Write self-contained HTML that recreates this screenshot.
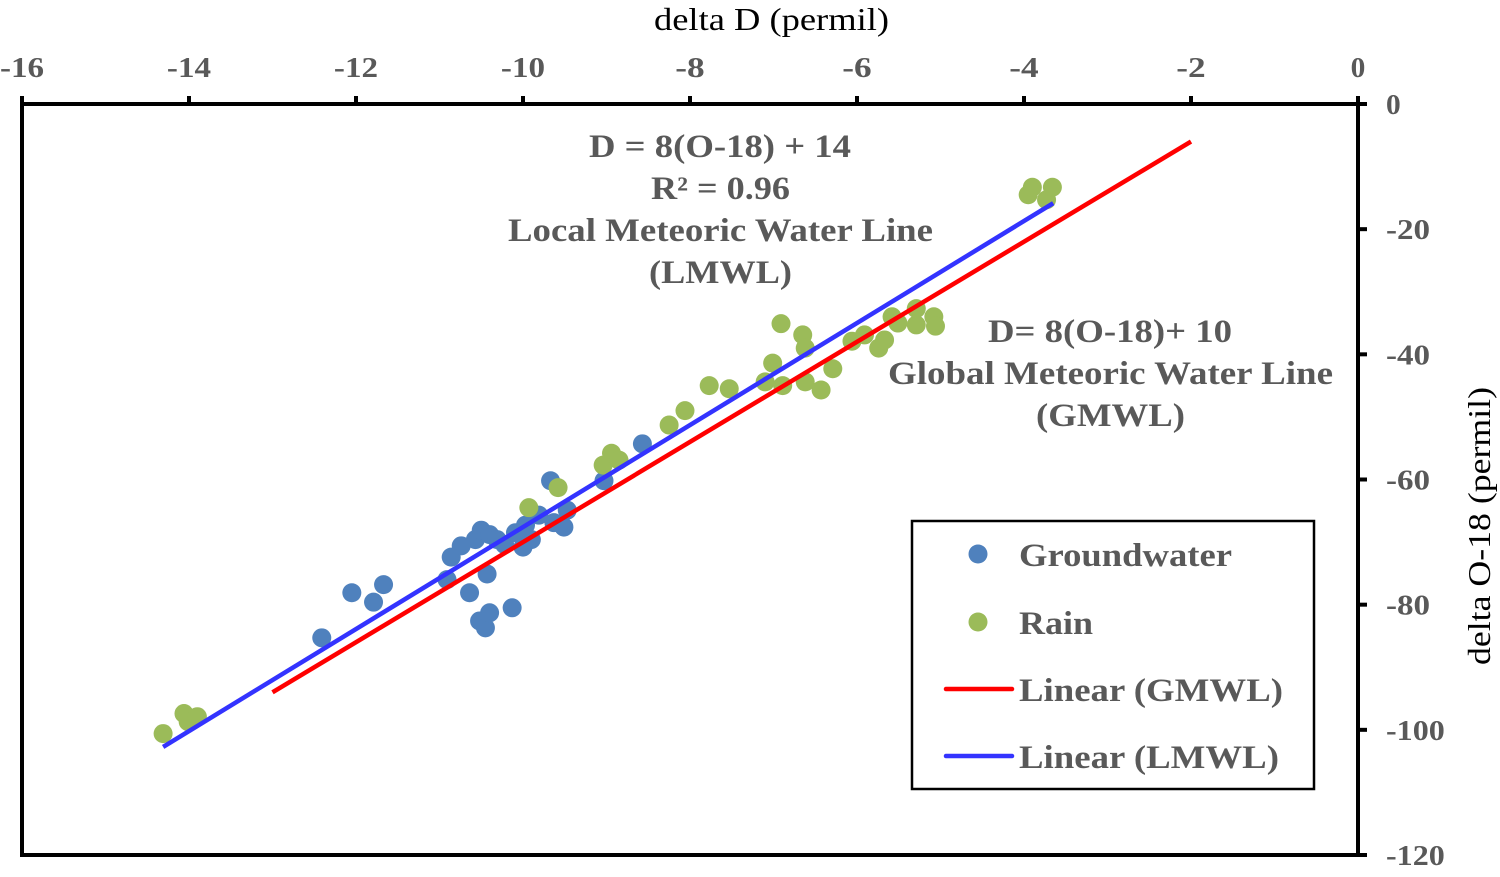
<!DOCTYPE html>
<html><head><meta charset="utf-8"><style>
html,body{margin:0;padding:0;background:#fff;}
svg{display:block;font-family:"Liberation Serif",serif;}
.tk{font-weight:bold;fill:#595959;font-size:29px;}
.an{font-weight:bold;fill:#595959;font-size:33px;}
</style></head><body>
<svg id="chart" width="1500" height="877" viewBox="0 0 1500 877">
<g id="axes"></g>
<g id="marks"></g>
<text x="654" y="30" textLength="235" lengthAdjust="spacingAndGlyphs" font-size="32" fill="#000">delta D (permil)</text>
<text transform="translate(1490,665) rotate(-90)" textLength="278" lengthAdjust="spacingAndGlyphs" font-size="32" fill="#000">delta O-18 (permil)</text>
<g>
<text class="an" x="589" y="157" textLength="262" lengthAdjust="spacingAndGlyphs">D = 8(O-18) + 14</text>
<text class="an" x="651" y="199" textLength="139" lengthAdjust="spacingAndGlyphs">R² = 0.96</text>
<text class="an" x="508" y="241" textLength="425" lengthAdjust="spacingAndGlyphs">Local Meteoric Water Line</text>
<text class="an" x="649" y="283" textLength="143" lengthAdjust="spacingAndGlyphs">(LMWL)</text>
</g>
<g>
<text class="an" x="988" y="342" textLength="244" lengthAdjust="spacingAndGlyphs">D= 8(O-18)+ 10</text>
<text class="an" x="888" y="384" textLength="445" lengthAdjust="spacingAndGlyphs">Global Meteoric Water Line</text>
<text class="an" x="1036" y="426" textLength="149" lengthAdjust="spacingAndGlyphs">(GMWL)</text>
</g>
<g>
<rect x="912" y="521" width="402" height="268" fill="#fff" stroke="#000" stroke-width="2.5"/>
<g><circle cx="978" cy="554" r="9.5" fill="#4f81bd"/><text class="an" x="1019" y="566" textLength="213" lengthAdjust="spacingAndGlyphs">Groundwater</text></g>
<g><circle cx="978" cy="622" r="9.5" fill="#9bbb59"/><text class="an" x="1019" y="634" textLength="74" lengthAdjust="spacingAndGlyphs">Rain</text></g>
<g><line x1="946" y1="689" x2="1012" y2="689" stroke="#ff0000" stroke-width="4.5" stroke-linecap="round"/><text class="an" x="1019" y="701" textLength="264" lengthAdjust="spacingAndGlyphs">Linear (GMWL)</text></g>
<g><line x1="946" y1="756" x2="1012" y2="756" stroke="#3333ff" stroke-width="4.5" stroke-linecap="round"/><text class="an" x="1019" y="768" textLength="260" lengthAdjust="spacingAndGlyphs">Linear (LMWL)</text></g>
</g>
</svg>
<script>
const xTicks=[-16,-14,-12,-10,-8,-6,-4,-2,0];
const yTicks=[0,-20,-40,-60,-80,-100,-120];
const gwX=[-12.41,-12.05,-11.79,-11.67,-10.91,-10.86,-10.74,-10.64,-10.57,-10.52,-10.50,-10.45,-10.40,-10.43,-10.40,-10.22,-10.13,-10.09,-10.00,-9.90,-9.81,-9.67,-9.63,-9.51,-9.47,-9.03,-8.57,-9.97,-10.31];
const gwY=[-85.3,-78.1,-79.6,-76.8,-76.0,-72.4,-70.6,-78.1,-69.6,-82.6,-68.1,-83.7,-68.8,-75.1,-81.3,-70.4,-80.5,-68.5,-70.8,-69.6,-65.7,-60.2,-66.9,-67.6,-64.9,-60.2,-54.3,-67.3,-69.6];
const rainX=[-14.31,-14.06,-14.01,-13.90,-9.93,-9.58,-9.04,-8.94,-8.85,-8.25,-8.06,-7.77,-7.53,-7.10,-7.01,-6.91,-6.89,-6.65,-6.62,-6.62,-6.43,-6.29,-6.06,-5.91,-5.74,-5.67,-5.58,-5.51,-5.29,-5.29,-5.08,-5.06,-3.95,-3.90,-3.73,-3.66];
const rainY=[-100.6,-97.4,-98.7,-97.9,-64.5,-61.3,-57.7,-55.8,-56.9,-51.3,-49.0,-45.0,-45.5,-44.4,-41.4,-35.1,-45.0,-36.9,-44.4,-39.0,-45.7,-42.3,-37.9,-36.9,-39.0,-37.7,-34.0,-35.0,-35.3,-32.7,-34.0,-35.5,-14.5,-13.3,-15.3,-13.3];
const gmwlX=[-13,-2];const gmwlSlope=8;const gmwlIntercept=10;
const lmwlX=[-14.31,-3.65];const lmwlSlope=8.15;const lmwlIntercept=13.9;
const NS='http://www.w3.org/2000/svg';
const X=v=>22+(v+16)*(1336/16);
const Y=v=>104-v*(751/120);
function mk(tag,attrs,parent){const e=document.createElementNS(NS,tag);for(const k in attrs)e.setAttribute(k,attrs[k]);parent.appendChild(e);return e;}
const ax=document.getElementById('axes'),mg=document.getElementById('marks');
let e=mk('path',{d:`M22,104 H1358 M22,96 V855 H1358 M1358,96 V855`,stroke:'#000','stroke-width':4,fill:'none'},ax);


xTicks.forEach(t=>{
 let l=mk('line',{x1:X(t),x2:X(t),y1:96,y2:104,stroke:'#000','stroke-width':4},ax);
 
 
 let s=mk('text',{x:X(t),y:77,'text-anchor':'middle',class:'tk','textLength':String(t).length*14.7,'lengthAdjust':'spacingAndGlyphs'},ax);s.textContent=t;
 
 
});
yTicks.forEach(t=>{
 let l=mk('line',{x1:1358,x2:1367,y1:Y(t),y2:Y(t),stroke:'#000','stroke-width':4},ax);
 
 
 let s=mk('text',{x:1386,y:Y(t)+10,class:'tk','textLength':String(t).length*14.7,'lengthAdjust':'spacingAndGlyphs'},ax);s.textContent=t;
 
 
});
gwX.forEach((v,i)=>{let c=mk('circle',{cx:X(v),cy:Y(gwY[i]),r:9.5,fill:'#4f81bd'},mg);
 
 });
rainX.forEach((v,i)=>{let c=mk('circle',{cx:X(v),cy:Y(rainY[i]),r:9.5,fill:'#9bbb59'},mg);
 
 });
let g=mk('line',{x1:X(gmwlX[0]),y1:Y(gmwlSlope*gmwlX[0]+gmwlIntercept),x2:X(gmwlX[1]),y2:Y(gmwlSlope*gmwlX[1]+gmwlIntercept),stroke:'#ff0000','stroke-width':4.5},mg);


let b=mk('line',{x1:X(lmwlX[0]),y1:Y(lmwlSlope*lmwlX[0]+lmwlIntercept),x2:X(lmwlX[1]),y2:Y(lmwlSlope*lmwlX[1]+lmwlIntercept),stroke:'#3333ff','stroke-width':4.5},mg);


</script>
</body></html>
